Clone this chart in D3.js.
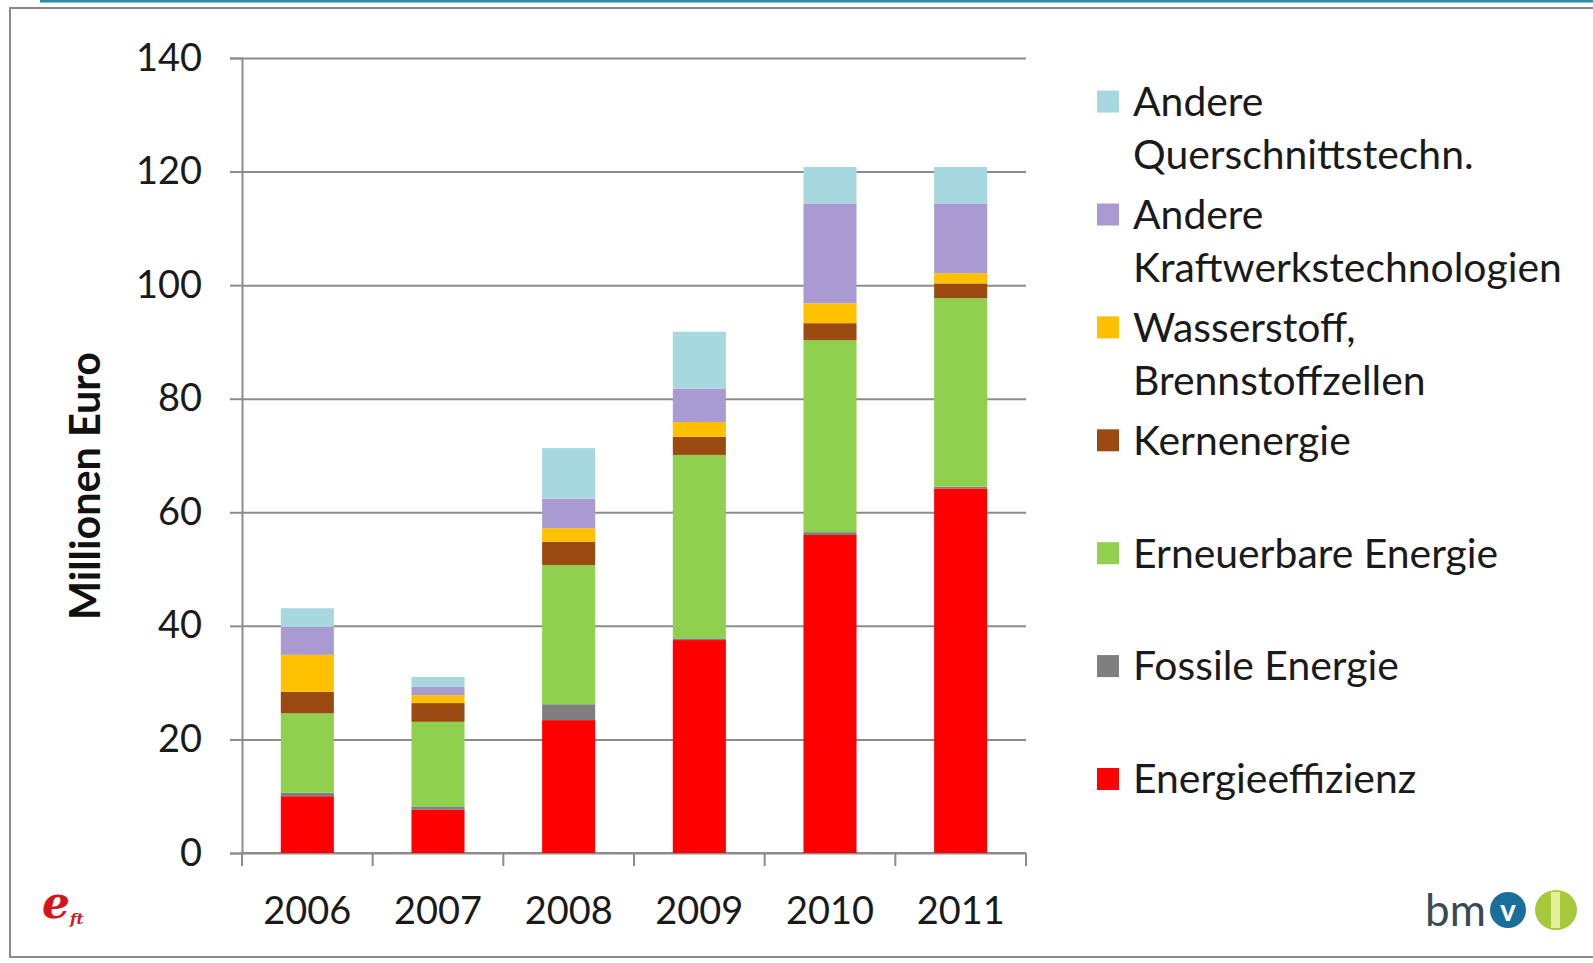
<!DOCTYPE html>
<html>
<head>
<meta charset="utf-8">
<script src="https://cdn.jsdelivr.net/npm/d3@7"></script>
<style>
  body { margin: 0; background: #fff; }
  svg { display: block; font-family: Lato, "Open Sans", sans-serif; }
</style>
</head>
<body>
<svg width="1593" height="963"></svg>
<script>
// years on the x axis
const years = ["2006", "2007", "2008", "2009", "2010", "2011"];

// stacked series, bottom to top (Millionen Euro)
const energieeffizienz = [10, 7.6, 23.4, 37.5, 56, 64.2];
const fossile = [0.6, 0.6, 2.8, 0.3, 0.5, 0.3];
const erneuerbare = [14.0, 14.9, 24.5, 32.3, 33.8, 33.2];
const kernenergie = [3.8, 3.3, 4.1, 3.2, 3.0, 2.6];
const wasserstoff = [6.5, 1.4, 2.4, 2.6, 3.5, 1.8];
const kraftwerk = [4.9, 1.5, 5.2, 5.9, 17.6, 12.3];
const querschnitt = [3.3, 1.7, 8.9, 10.0, 6.4, 6.4];

const yTicks = [0, 20, 40, 60, 80, 100, 120, 140];

const series = [
  { key: "eff", label: ["Energieeffizienz"], values: energieeffizienz, color: "#ff0000" },
  { key: "fos", label: ["Fossile Energie"], values: fossile, color: "#7f7f7f" },
  { key: "ern", label: ["Erneuerbare Energie"], values: erneuerbare, color: "#8fd14f" },
  { key: "kern", label: ["Kernenergie"], values: kernenergie, color: "#9b4a12" },
  { key: "h2", label: ["Wasserstoff,", "Brennstoffzellen"], values: wasserstoff, color: "#ffc000" },
  { key: "kw", label: ["Andere", "Kraftwerkstechnologien"], values: kraftwerk, color: "#a99bd1" },
  { key: "qs", label: ["Andere", "Querschnittstechn."], values: querschnitt, color: "#a8d8df" },
];

const svg = d3.select("svg");

// measure a sample string so font size matches the reference width
function sizeFor(text, target, weight) {
  const t = svg.append("text").attr("font-size", 100).attr("font-weight", weight || "normal").text(text);
  const w = t.node().getComputedTextLength();
  t.remove();
  return 100 * target / w;
}
const fsTick = sizeFor("2006", 88);
const fsLegend = sizeFor("Kraftwerkstechnologien", 429);
const fsTitle = sizeFor("Millionen Euro", 268, "bold");

// slide frame
svg.append("line").attr("x1", 40).attr("x2", 1593).attr("y1", 1).attr("y2", 1)
  .attr("stroke", "#2b8fa3").attr("stroke-width", 3);
svg.append("rect").attr("x", 10).attr("y", 8).attr("width", 1600).attr("height", 949)
  .attr("fill", "none").attr("stroke", "#8a8a8a").attr("stroke-width", 2);

const plotLeft = 242, plotRight = 1026, plotTop = 58, plotBottom = 853;

const table = years.map((y, i) => {
  const row = { year: y };
  series.forEach(s => row[s.key] = s.values[i]);
  return row;
});
const stacked = d3.stack().keys(series.map(s => s.key))(table);

const x = d3.scaleBand().domain(years).range([plotLeft, plotRight])
  .paddingInner(0.594).paddingOuter(0.297);
const xStep = d3.scaleBand().domain(years).range([plotLeft, plotRight]);
const y = d3.scaleLinear().domain([0, 140]).range([plotBottom, plotTop]);

// gridlines + y axis
const yAxis = svg.append("g").attr("transform", `translate(${plotLeft},0)`)
  .call(d3.axisLeft(y).tickValues(yTicks).tickSize(12).tickPadding(28));
yAxis.select(".domain").attr("stroke", "#8c8c8c").attr("stroke-width", 2);
yAxis.selectAll(".tick line").attr("stroke", "#8c8c8c").attr("stroke-width", 2);
yAxis.selectAll(".tick").append("line").attr("x1", 0).attr("x2", plotRight - plotLeft)
  .attr("stroke", "#8c8c8c").attr("stroke-width", 2);
yAxis.selectAll(".tick text").attr("font-size", fsTick).attr("fill", "#1a1a1a")
  .attr("font-family", "Lato, sans-serif");

// x axis with ticks between categories
const xAxis = svg.append("g").attr("transform", `translate(0,${plotBottom})`);
xAxis.append("line").attr("x1", plotLeft).attr("x2", plotRight).attr("stroke", "#8c8c8c").attr("stroke-width", 2);
xAxis.selectAll("line.sep").data(years.concat(["end"])).enter().append("line")
  .attr("class", "sep")
  .attr("x1", (d, i) => i < years.length ? xStep(d) : plotRight)
  .attr("x2", (d, i) => i < years.length ? xStep(d) : plotRight)
  .attr("y1", 0).attr("y2", 13).attr("stroke", "#8c8c8c").attr("stroke-width", 2);
xAxis.selectAll("text").data(years).enter().append("text")
  .attr("x", d => x(d) + x.bandwidth() / 2).attr("y", 58)
  .attr("dy", "0.35em")
  .attr("text-anchor", "middle").attr("font-size", fsTick).attr("fill", "#1a1a1a")
  .text(d => d);

// bars
svg.append("g").selectAll("g").data(stacked).enter().append("g")
  .attr("fill", (d, i) => series[i].color)
  .selectAll("rect").data(d => d).enter().append("rect")
  .attr("x", d => x(d.data.year))
  .attr("width", x.bandwidth())
  .attr("y", d => y(d[1]))
  .attr("height", d => y(d[0]) - y(d[1]));

// y axis title
svg.append("text").attr("transform", "translate(86,486) rotate(-90)")
  .attr("text-anchor", "middle").attr("dy", "0.35em").attr("font-size", fsTitle).attr("font-weight", "bold")
  .attr("fill", "#111").text("Millionen Euro");

// legend, top entry first
const legendRows = series.slice().reverse();
const lg = svg.append("g");
legendRows.forEach((s, i) => {
  const cy = 101.6 + i * 112.9;
  lg.append("rect").attr("x", 1097).attr("y", cy - 11).attr("width", 22).attr("height", 22)
    .attr("fill", s.color);
  s.label.forEach((t, j) => {
    lg.append("text").attr("x", 1133).attr("y", cy + j * 53.5)
      .attr("dy", "0.35em").attr("font-size", fsLegend).attr("fill", "#1a1a1a").text(t);
  });
});

// logos
const eft = svg.append("text").attr("x", 42).attr("y", 918).attr("font-family", "DejaVu Serif, serif")
  .attr("font-style", "italic").attr("font-weight", "bold").attr("fill", "#d4161c");
eft.append("tspan").attr("font-size", 44).text("e");
eft.append("tspan").attr("font-size", 15).attr("dy", 6).text("ft");

svg.append("text").attr("x", 1425).attr("y", 926).attr("font-size", 44)
  .attr("fill", "#3a4a55").text("bm");
svg.append("circle").attr("cx", 1508).attr("cy", 910).attr("r", 18).attr("fill", "#1a6e9a");
svg.append("text").attr("x", 1508).attr("y", 921).attr("text-anchor", "middle")
  .attr("font-size", 30).attr("font-weight", "bold").attr("fill", "#fff").text("v");
svg.append("ellipse").attr("cx", 1556).attr("cy", 910).attr("rx", 21).attr("ry", 20).attr("fill", "#a5c93a");
svg.append("rect").attr("x", 1551).attr("y", 892).attr("width", 9).attr("height", 36).attr("fill", "#e5ef9a");
</script>
</body>
</html>
